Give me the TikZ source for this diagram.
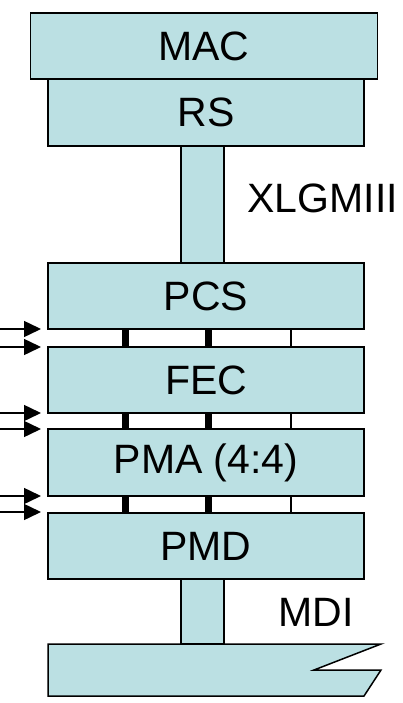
\documentclass[tikz,border=0pt]{standalone}
\usepackage{fontspec}
\setmainfont{Liberation Sans}
\usetikzlibrary{arrows.meta}
\definecolor{layer}{RGB}{187,224,227}
\begin{document}
\begin{tikzpicture}[x=1pt,y=-1pt,
  box/.style={draw=black, line width=1.5pt, fill=layer, rectangle, inner sep=0pt, outer sep=0pt,
    font=\fontsize{41}{48}\selectfont},
  stem/.style={draw=black, line width=1.5pt, fill=layer},
  thickbar/.style={line width=7pt, draw=black},
  thinbar/.style={line width=1.3pt, draw=black},
  inarrow/.style={line width=1.5pt, -{Triangle[length=17pt,width=16pt]}},
  lbl/.style={font=\fontsize{41}{48}\selectfont, inner sep=0pt}]
\useasboundingbox (0,0) rectangle (402,703);
% stems
\draw[stem] (181,146) rectangle (224,263);
\draw[stem] (181,579) rectangle (224,644);
% layers
\node[box, minimum width=347pt, minimum height=66pt] (MAC) at (204,46) {\raisebox{-1pt}{MAC}};
\node[box, minimum width=316pt, minimum height=67pt] (RS) at (206,112.5) {RS};
\node[box, minimum width=316pt, minimum height=66pt] (PCS) at (206,296) {PCS};
\node[box, minimum width=316pt, minimum height=66pt] (FEC) at (206,380) {FEC};
\node[box, minimum width=316pt, minimum height=67pt] (PMA) at (206,462.5) {PMA (4:4)};
\node[box, minimum width=316pt, minimum height=66pt] (PMD) at (206,546) {PMD};
% medium
\draw[stem, line join=miter] (48,644) -- (381,644) -- (314,670) -- (381,670) -- (364,696) -- (48,696) -- cycle;
% labels
\node[lbl, anchor=east] (xl) at (398,198) {XLGMIII};
\node[lbl] (mdi) at (316,612) {MDI};
% bars between layers
\foreach \a/\b in {PCS/FEC, FEC/PMA, PMA/PMD}{
  \draw[thickbar] (\a.south -| 125,0) -- (\b.north -| 125,0);
  \draw[thickbar] (\a.south -| 208,0) -- (\b.north -| 208,0);
  \draw[thinbar] (\a.south -| 291,0) -- (\b.north -| 291,0);
}
% arrows
\coordinate (a1) at (0,329); \coordinate (b1) at (41,329);
\coordinate (a2) at (0,347); \coordinate (b2) at (41,347);
\coordinate (a3) at (0,413); \coordinate (b3) at (41,413);
\coordinate (a4) at (0,429); \coordinate (b4) at (41,429);
\coordinate (a5) at (0,496); \coordinate (b5) at (41,496);
\coordinate (a6) at (0,512); \coordinate (b6) at (41,512);
\foreach \i in {1,...,6}{\draw[inarrow] (a\i) -- (b\i);}
\end{tikzpicture}
\end{document}
